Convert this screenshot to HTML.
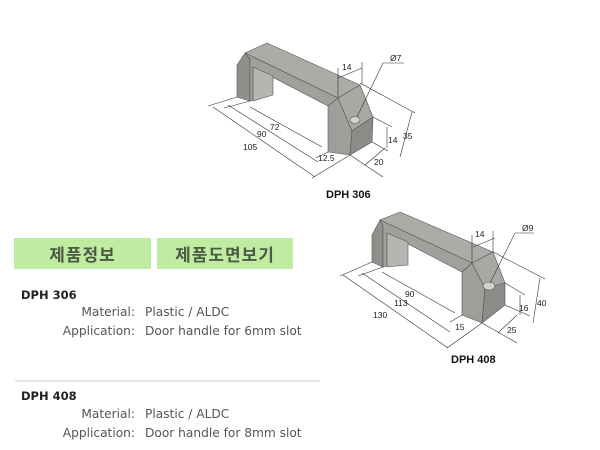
<!DOCTYPE html>
<html><head><meta charset="utf-8"><style>
body{margin:0;width:600px;height:450px;background:#fff;position:relative;overflow:hidden;font-family:"DejaVu Sans","Noto Sans CJK KR",sans-serif}
.btn{position:absolute;top:238px;height:31px;background:#c0eca2;color:#4b5a45;font-weight:bold;font-size:17px;line-height:31px;text-align:center;font-family:"Noto Sans CJK KR","NanumGothic",sans-serif;letter-spacing:1px}
.h{position:absolute;font-size:11.5px;font-weight:bold;color:#222;left:21px}
.l{position:absolute;left:0;width:135px;text-align:right;font-size:12.2px;color:#555}
.v{position:absolute;left:145px;font-size:12.2px;color:#555;white-space:nowrap}
svg{position:absolute;left:0;top:0}
</style></head><body>
<svg width="600" height="450" viewBox="0 0 600 450" font-family="Liberation Sans, sans-serif" font-size="8.5" fill="#222">
<g stroke="#555" stroke-width="0.6" stroke-linejoin="round">
<polygon points="267,43 360,85 338,98 245,53" fill="#ababa7"/>
<polygon points="245,53 237,65 237,97 250,101 250,59" fill="#8f8f8b"/>
<polygon points="245,53 338,98 328,106 253,67 253,100 250,101 250,59" fill="#a0a09c"/>
<polygon points="253,67 273,76 273,95 253,101" fill="#b5b5b1"/>
<polygon points="338,98 352,131 350,155 328,152 328,106" fill="#9e9e9a"/>
<polygon points="338,98 360,85 373,117 352,131" fill="#a8a8a4"/>
<polygon points="352,131 373,117 372,142 350,155" fill="#8c8c88"/>
<ellipse cx="355" cy="120" rx="5" ry="3.5" fill="#d0d0cc"/>
<polygon points="400,212 493,252 472,263 380,220" fill="#ababa7"/>
<polygon points="380,220 372,235 372,262 383,267 383,225" fill="#8f8f8b"/>
<polygon points="380,220 472,263 462,272 387,233 387,266 383,267 383,225" fill="#a0a09c"/>
<polygon points="387,233 408,242 408,265 387,267" fill="#b5b5b1"/>
<polygon points="472,263 485,288 482,323 462,315 462,272" fill="#9e9e9a"/>
<polygon points="472,263 493,252 505,283 485,288" fill="#a8a8a4"/>
<polygon points="485,288 505,283 505,305 482,323" fill="#8c8c88"/>
<ellipse cx="489" cy="286" rx="6" ry="4" fill="#d0d0cc"/>
</g>
<g stroke="#333" stroke-width="0.6" fill="none">
<line x1="213" y1="107" x2="315" y2="177"/><line x1="228" y1="105" x2="318" y2="162"/><line x1="250" y1="107" x2="322" y2="147"/>
<line x1="237" y1="97" x2="208" y2="106"/><line x1="250" y1="101" x2="224" y2="108"/>
<line x1="350" y1="155" x2="383" y2="177"/><line x1="372" y1="142" x2="388" y2="151"/>
<line x1="350" y1="155" x2="312" y2="178"/><line x1="328" y1="152" x2="316" y2="158"/>
<line x1="365" y1="165" x2="385" y2="148"/><line x1="387" y1="127" x2="387" y2="148"/>
<line x1="373" y1="117" x2="392" y2="127"/>
<line x1="412" y1="112" x2="400" y2="157"/><line x1="360" y1="83" x2="415" y2="113"/>
<line x1="338" y1="98" x2="338" y2="68"/><line x1="362" y1="85" x2="362" y2="62"/>
<line x1="338" y1="78" x2="362" y2="68"/>
<polyline points="357,117 383,63 404,63"/>
<line x1="343" y1="275" x2="448" y2="348"/><line x1="362" y1="273" x2="450" y2="332"/><line x1="382" y1="272" x2="455" y2="313"/>
<line x1="372" y1="262" x2="340" y2="276"/><line x1="383" y1="267" x2="358" y2="276"/>
<line x1="482" y1="323" x2="517" y2="343"/><line x1="505" y1="305" x2="530" y2="316"/>
<line x1="482" y1="323" x2="447" y2="348"/><line x1="462" y1="315" x2="450" y2="322"/>
<line x1="498" y1="333" x2="517" y2="315"/><line x1="520" y1="295" x2="520" y2="315"/>
<line x1="505" y1="283" x2="525" y2="295"/>
<line x1="540" y1="278" x2="533" y2="323"/><line x1="493" y1="252" x2="545" y2="279"/>
<line x1="472" y1="263" x2="472" y2="235"/><line x1="493" y1="252" x2="493" y2="231"/>
<line x1="473" y1="247" x2="495" y2="238"/>
<polyline points="490,283 515,233 534,233"/>
</g>
<text x="243" y="150">105</text><text x="257" y="137">90</text><text x="270" y="130">72</text>
<text x="318" y="161">12.5</text><text x="374" y="165">20</text><text x="388" y="143">14</text>
<text x="403" y="139">35</text><text x="342" y="70">14</text><text x="390" y="61">Ø7</text>
<text x="326" y="198" font-size="11" font-weight="bold" fill="#111">DPH 306</text>
<text x="373" y="318">130</text><text x="394" y="306">113</text><text x="405" y="297">90</text>
<text x="455" y="330">15</text><text x="507" y="333">25</text><text x="519" y="311">16</text>
<text x="537" y="306">40</text><text x="475" y="237">14</text><text x="522" y="231">Ø9</text>
<text x="451" y="363" font-size="11" font-weight="bold" fill="#111">DPH 408</text>
<line x1="15" y1="381" x2="320" y2="381" stroke="#ccc" stroke-width="1"/>
</svg>
<div class="btn" style="left:14px;width:137px">제품정보</div>
<div class="btn" style="left:157px;width:136px">제품도면보기</div>
<div class="h" style="top:288px">DPH 306</div>
<div class="l" style="top:305px">Material:</div><div class="v" style="top:305px">Plastic / ALDC</div>
<div class="l" style="top:324px">Application:</div><div class="v" style="top:324px">Door handle for 6mm slot</div>
<div class="h" style="top:389px">DPH 408</div>
<div class="l" style="top:407px">Material:</div><div class="v" style="top:407px">Plastic / ALDC</div>
<div class="l" style="top:426px">Application:</div><div class="v" style="top:426px">Door handle for 8mm slot</div>
</body></html>
